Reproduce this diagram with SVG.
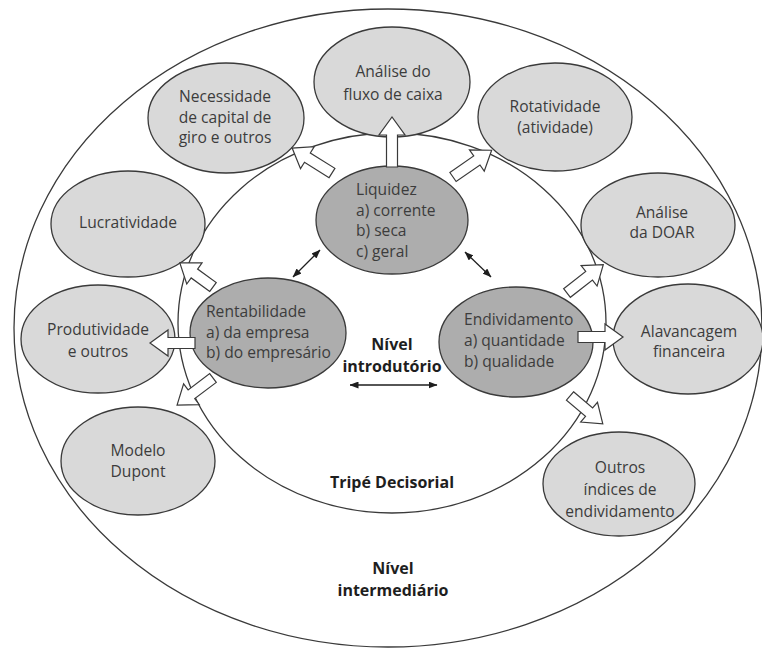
<svg xmlns="http://www.w3.org/2000/svg" width="762" height="648" viewBox="0 0 762 648">
<style>
.ring{fill:none;stroke:#3a3a3a;stroke-width:1.3}
.lt{fill:#d9d9d9;stroke:#3a3a3a;stroke-width:1.3}
.dk{fill:#adadad;stroke:#3a3a3a;stroke-width:1.3}
.t{font-family:"Open Sans","Liberation Sans",sans-serif;font-size:15.6px;fill:#3c3c3c}
.c{text-anchor:middle}
.b{font-family:"Open Sans","Liberation Sans",sans-serif;font-size:16px;font-weight:bold;fill:#1e1e1e;text-anchor:middle}
.blk{fill:#ffffff;stroke:#3a3a3a;stroke-width:1.2;stroke-linejoin:miter}
.dbl{stroke:#1e1e1e;stroke-width:1.3;fill:none;marker-start:url(#ah);marker-end:url(#ah)}
</style>
<defs>
<marker id="ah" viewBox="0 0 9 7" refX="8.5" refY="3.5" markerWidth="9" markerHeight="7" markerUnits="userSpaceOnUse" orient="auto-start-reverse">
<path d="M0,0 L9,3.5 L0,7 Z" fill="#1e1e1e"/>
</marker>
</defs>
<rect width="762" height="648" fill="#ffffff"/>
<g id="levels">
<ellipse class="ring" cx="388" cy="328" rx="374" ry="319"/>
<ellipse class="ring" cx="392" cy="323" rx="214" ry="190"/>
<text class="b" x="392" y="350">Nível</text>
<text class="b" x="392" y="372">introdutório</text>
<text class="b" x="392" y="488">Tripé Decisorial</text>
<text class="b" x="393" y="574">Nível</text>
<text class="b" x="393" y="596">intermediário</text>
</g>
<g id="n-fluxo"><ellipse class="lt" cx="392" cy="82" rx="78" ry="55"/>
<text class="t c" x="393" y="77">Análise do</text><text class="t c" x="393" y="100">fluxo de caixa</text></g>
<g id="n-necessidade"><ellipse class="lt" cx="226" cy="118" rx="78" ry="55"/>
<text class="t c" x="225" y="102">Necessidade</text><text class="t c" x="225" y="123">de capital de</text><text class="t c" x="225" y="143">giro e outros</text></g>
<g id="n-rotatividade"><ellipse class="lt" cx="555" cy="117" rx="77" ry="54"/>
<text class="t c" x="555" y="112">Rotatividade</text><text class="t c" x="555" y="133">(atividade)</text></g>
<g id="n-lucratividade"><ellipse class="lt" cx="128" cy="224" rx="77" ry="53"/>
<text class="t c" x="128" y="228">Lucratividade</text></g>
<g id="n-doar"><ellipse class="lt" cx="658" cy="225" rx="77" ry="52"/>
<text class="t c" x="662" y="218">Análise</text><text class="t c" x="662" y="238">da DOAR</text></g>
<g id="n-produtividade"><ellipse class="lt" cx="98" cy="339" rx="77" ry="54"/>
<text class="t c" x="98" y="335">Produtividade</text><text class="t c" x="98" y="357">e outros</text></g>
<g id="n-alavancagem"><ellipse class="lt" cx="688" cy="339" rx="75" ry="55"/>
<text class="t c" x="689" y="337">Alavancagem</text><text class="t c" x="689" y="357">financeira</text></g>
<g id="n-dupont"><ellipse class="lt" cx="138" cy="461" rx="77" ry="54"/>
<text class="t c" x="138" y="456">Modelo</text><text class="t c" x="138" y="477">Dupont</text></g>
<g id="n-outros"><ellipse class="lt" cx="619" cy="484" rx="76" ry="52"/>
<text class="t c" x="620" y="473">Outros</text><text class="t c" x="620" y="495">índices de</text><text class="t c" x="620" y="517">endividamento</text></g>
<g id="n-liquidez"><ellipse class="dk" cx="392" cy="220" rx="76" ry="54"/>
<text class="t" x="356" y="195">Liquidez</text><text class="t" x="356" y="216">a) corrente</text><text class="t" x="356" y="236">b) seca</text><text class="t" x="356" y="257">c) geral</text></g>
<g id="n-rentabilidade"><ellipse class="dk" cx="268" cy="333" rx="78" ry="55"/>
<text class="t" x="206" y="317">Rentabilidade</text><text class="t" x="206" y="338">a) da empresa</text><text class="t" x="206" y="358">b) do empresário</text></g>
<g id="n-endividamento"><ellipse class="dk" cx="516" cy="342" rx="77" ry="55"/>
<text class="t" x="464" y="325">Endividamento</text><text class="t" x="464" y="346">a) quantidade</text><text class="t" x="464" y="367">b) qualidade</text></g>
<g id="connectors">
<polygon class="blk" transform="translate(392,167) rotate(-90)" points="0,-5.5 32,-5.5 32,-13 50,0 32,13 32,5.5 0,5.5"/>
<polygon class="blk" transform="translate(332,173) rotate(-148)" points="0,-5.5 29,-5.5 29,-13 47,0 29,13 29,5.5 0,5.5"/>
<polygon class="blk" transform="translate(453,177) rotate(-34.7)" points="0,-5.5 29,-5.5 29,-13 47,0 29,13 29,5.5 0,5.5"/>
<polygon class="blk" transform="translate(213,287) rotate(-144)" points="0,-5.5 23,-5.5 23,-13 41,0 23,13 23,5.5 0,5.5"/>
<polygon class="blk" transform="translate(195,343) rotate(180)" points="0,-5.5 27,-5.5 27,-13 45,0 27,13 27,5.5 0,5.5"/>
<polygon class="blk" transform="translate(213,378) rotate(143)" points="0,-5.5 27,-5.5 27,-13 45,0 27,13 27,5.5 0,5.5"/>
<polygon class="blk" transform="translate(567,293) rotate(-37.9)" points="0,-5.5 28,-5.5 28,-13 46,0 28,13 28,5.5 0,5.5"/>
<polygon class="blk" transform="translate(578,337)" points="0,-5.5 27,-5.5 27,-13 45,0 27,13 27,5.5 0,5.5"/>
<polygon class="blk" transform="translate(570,396) rotate(40.3)" points="0,-5.5 25,-5.5 25,-13 43,0 25,13 25,5.5 0,5.5"/>
<line class="dbl" x1="293" y1="277" x2="320" y2="250"/>
<line class="dbl" x1="465" y1="252" x2="491" y2="277"/>
<line class="dbl" x1="350" y1="385" x2="437" y2="385"/>
</g>
</svg>
